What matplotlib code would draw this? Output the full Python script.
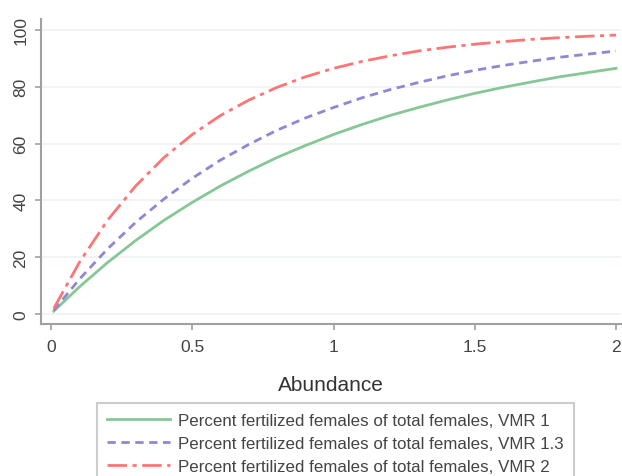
import numpy as np
import matplotlib.pyplot as plt

# abundance values and percent fertilized for the three VMR levels
abundance = [0.01, 0.1, 0.2, 0.3, 0.4, 0.5, 0.6, 0.7, 0.8, 0.9, 1.0,
             1.1, 1.2, 1.3, 1.4, 1.5, 1.6, 1.7, 1.8, 1.9, 2.0]
vmr1 = [1.0, 9.5, 18.1, 25.9, 33.0, 39.3, 45.1, 50.3, 55.1, 59.3, 63.2,
        66.7, 69.9, 72.7, 75.3, 77.7, 79.8, 81.7, 83.5, 85.0, 86.5]
vmr13 = [1.3, 12.2, 22.9, 32.3, 40.5, 47.8, 54.2, 59.7, 64.7, 69.0, 72.7,
         76.1, 79.0, 81.5, 83.8, 85.8, 87.5, 89.0, 90.4, 91.5, 92.6]
vmr2 = [2.0, 18.1, 33.0, 45.1, 55.1, 63.2, 69.9, 75.3, 79.8, 83.5, 86.5,
        88.9, 90.9, 92.6, 93.9, 95.0, 95.9, 96.7, 97.3, 97.8, 98.2]
labels = ['Percent fertilized females of total females, VMR 1',
          'Percent fertilized females of total females, VMR 1.3',
          'Percent fertilized females of total females, VMR 2']
xticks = [0, 0.5, 1, 1.5, 2]
xticklabels = ['0', '0.5', '1', '1.5', '2']
yticks = [0, 20, 40, 60, 80, 100]

plt.rcParams['font.family'] = ['Liberation Sans', 'DejaVu Sans']

W, H = 622, 477
fig = plt.figure(figsize=(W / 100, H / 100), dpi=100)
ax = fig.add_axes([41 / W, (H - 325) / H, (621 - 41) / W, (325 - 20) / H])

ax.plot(abundance, vmr1, color='#86c796', lw=2, label=labels[0])
ax.plot(abundance, vmr13, color='#8f86d6', lw=2, linestyle=(0, (3, 2)),
        label=labels[1])
ax.plot(abundance, vmr2, color='#ff7474', lw=2, linestyle=(0, (7, 2, 1.5, 2)),
        label=labels[2])

ax.set_xlim(-10 / 282.5, 2 + 5 / 282.5)
ax.set_ylim(-10 / 2.84, 100 + 11 / 2.84)
ax.set_xticks(xticks)
ax.set_xticklabels(xticklabels)
ax.set_yticks(yticks)
ax.set_yticklabels([str(v) for v in yticks], rotation=90, va='center')
ax.grid(axis='y', color='#edf2f2', lw=1.2)
ax.set_axisbelow(True)

for s in ['top', 'right']:
  ax.spines[s].set_visible(False)
for s in ['left', 'bottom']:
  ax.spines[s].set_color('#a0a0a0')
  ax.spines[s].set_linewidth(1.5)
ax.tick_params(colors='#a0a0a0', labelcolor='#444444', labelsize=12.5,
               length=4, width=1.2)
ax.tick_params(axis='x', pad=7)
ax.tick_params(axis='y', pad=5)
ax.set_xlabel('Abundance', fontsize=15, color='#333333', labelpad=15)

leg = fig.legend(loc='upper left', bbox_to_anchor=(97 / W, 1 - 404 / H),
                 fontsize=12.2, frameon=True, fancybox=False,
                 handlelength=3.7, handletextpad=0.5, labelspacing=0.47,
                 borderpad=0.6, borderaxespad=0, labelcolor='#444444')
leg.get_frame().set_edgecolor('#c0c0c0')
leg.get_frame().set_linewidth(1.5)

fig.savefig('out.png', dpi=100)
plt.close()
